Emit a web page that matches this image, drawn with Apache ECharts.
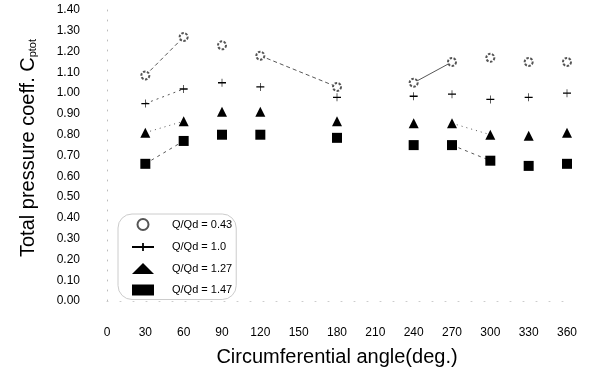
<!DOCTYPE html>
<html><head><meta charset="utf-8">
<script src="https://cdn.jsdelivr.net/npm/echarts@6/dist/echarts.min.js"></script>
<style>html,body{margin:0;padding:0;background:#fff}#c{width:590px;height:372px}</style>
</head><body><div id="c"></div>
<script>
var angles = [30, 60, 90, 120, 180, 240, 270, 300, 330, 360];
var seriesNames = ['Q/Qd = 0.43', 'Q/Qd = 1.0', 'Q/Qd = 1.27', 'Q/Qd = 1.47'];
var q043 = [1.085, 1.27, 1.23, 1.18, 1.03, 1.05, 1.15, 1.17, 1.15, 1.15];
var q100 = [0.95, 1.02, 1.05, 1.03, 0.98, 0.985, 0.995, 0.97, 0.98, 1.00];
var q127 = [0.81, 0.865, 0.91, 0.91, 0.865, 0.855, 0.855, 0.80, 0.795, 0.81];
var q147 = [0.66, 0.77, 0.80, 0.80, 0.785, 0.75, 0.75, 0.675, 0.65, 0.66];
// visible connecting segments (index pairs into angles)
var seg043 = [[0,1],[3,4],[5,6]];
var seg100 = [[0,1]];
var seg127 = [[0,1],[6,7]];
var seg147 = [[0,1],[6,7]];
var xTitle = 'Circumferential angle(deg.)';
var yTitleMain = 'Total pressure coeff. C';
var yTitleSub = 'ptot';

var plusPath = 'path://M0,4.6L10,4.6L10,5.4L0,5.4Z M4.6,2.5L5.4,2.5L5.4,7.5L4.6,7.5Z';
var symbols = ['emptyCircle', plusPath, 'triangle', 'rect'];
var legendIcons = ['emptyCircle', 'path://M0,4.6L10,4.6L10,5.4L0,5.4Z M4.6,3.2L5.4,3.2L5.4,6.8L4.6,6.8Z', 'triangle', 'rect'];
var sizes = [8, 8, 10, 10];
var vals = [q043, q100, q127, q147];
var segs = [seg043, seg100, seg127, seg147];
var dashTypes = [[4,3], [2,4], [1,4], [3,4]];

var series = [];
vals.forEach(function(v, i){
  series.push({
    name: seriesNames[i], type: 'line',
    data: angles.map(function(a, k){ return [a, v[k]]; }),
    symbol: symbols[i], symbolSize: sizes[i],
    itemStyle: i===0 ? {color: '#555', borderColor: '#555', borderWidth: 0.9, borderType: [2.5,1.5]} : {color: '#000', borderWidth: 0},
    lineStyle: {width: 0, opacity: 0},
    z: 3
  });
  segs[i].forEach(function(s){
    series.push({
      type: 'line', silent: true, symbol: 'none',
      data: [[angles[s[0]], v[s[0]]], [angles[s[1]], v[s[1]]]],
      lineStyle: {color: '#444', width: 0.9, type: (i===0 && s[0]===5) ? 'solid' : dashTypes[i]},
      z: 2
    });
  });
});

var chart = echarts.init(document.getElementById('c'), null, {renderer: 'canvas'});
chart.setOption({
  animation: false,
  backgroundColor: '#fff',
  textStyle: {fontFamily: 'Liberation Sans, Arial, sans-serif'},
  grid: {left: 107, right: 23, top: 10, bottom: 69},
  legend: {
    orient: 'vertical', left: 118, top: 214,
    itemWidth: 22, itemHeight: 11, itemGap: 10.5,
    padding: [4, 4, 4, 14],
    borderColor: '#ccc', borderWidth: 1, borderRadius: 14,
    textStyle: {fontSize: 11, color: '#000', padding: [0,0,0,13]},
    data: seriesNames.map(function(n, i){ return {name: n, icon: legendIcons[i]}; })
  },
  graphic: [{
    type: 'text', x: 28, y: 148, rotation: Math.PI / 2,
    style: {
      text: '{a|' + yTitleMain + '}{s|' + yTitleSub + '}',
      align: 'center', verticalAlign: 'middle',
      font: '20px Liberation Sans, Arial, sans-serif', fill: '#000',
      rich: {
        a: {fontSize: 20, fontFamily: 'Liberation Sans, Arial, sans-serif', fill: '#000'},
        s: {fontSize: 11, fontFamily: 'Liberation Sans, Arial, sans-serif', fill: '#000', verticalAlign: 'bottom', padding: [10,0,0,0]}
      }
    }
  }],
  xAxis: {
    type: 'value', min: 0, max: 360, interval: 30,
    name: xTitle, nameLocation: 'middle', nameGap: 46,
    nameTextStyle: {fontSize: 20, color: '#000'},
    axisLine: {show: true, lineStyle: {color: '#ccc', type: [1,12], width: 1}},
    axisTick: {show: false},
    axisLabel: {fontSize: 12, color: '#000', margin: 26},
    splitLine: {show: false}
  },
  yAxis: {
    type: 'value', min: 0, max: 1.4, interval: 0.1,
    axisLine: {show: true, lineStyle: {color: '#bbb', type: [1,9], width: 1}},
    axisTick: {show: false},
    axisLabel: {fontSize: 12, color: '#000', margin: 27, formatter: function(v){ return v.toFixed(2); }},
    splitLine: {show: false}
  },
  series: series
});
</script></body></html>
